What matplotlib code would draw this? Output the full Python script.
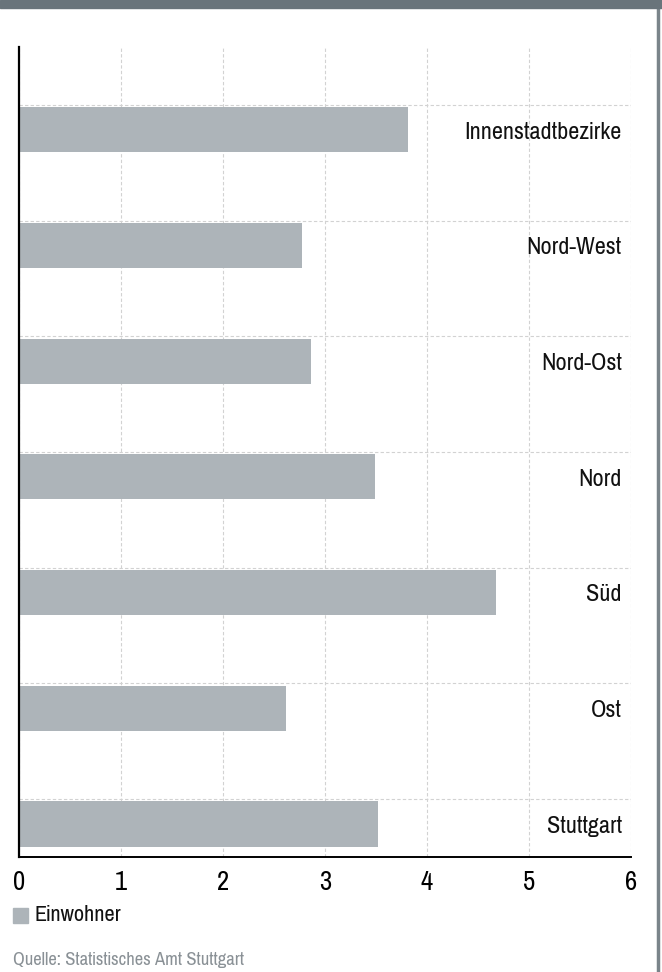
import matplotlib
matplotlib.use("Agg")
import matplotlib.pyplot as plt
from matplotlib import font_manager
from matplotlib.patches import Rectangle
from matplotlib.lines import Line2D

names = {f.name for f in font_manager.fontManager.ttflist}
fam = next((f for f in ["Pragati Narrow", "Roboto Condensed", "Liberation Sans"] if f in names), "DejaVu Sans")
plt.rcParams['font.family'] = [fam, 'DejaVu Sans']

categories = ["Innenstadtbezirke", "Nord-West", "Nord-Ost", "Nord", "Süd", "Ost", "Stuttgart"]
einwohner = [3.81, 2.77, 2.86, 3.49, 4.68, 2.62, 3.52]
xticks = [0, 1, 2, 3, 4, 5, 6]

W, H = 662, 972
fig = plt.figure(figsize=(W/100, H/100), dpi=100)
ax = fig.add_axes([19/W, 1-857/H, 612/W, 810/H])

bar_color = "#adb4b9"
pos = list(range(len(categories)))
ax.barh([p + 0.215 for p in pos], einwohner, height=0.39, color=bar_color, zorder=2)

ax.set_xlim(0, 6)
ax.set_ylim(len(categories) - 0.5, -0.5)
ax.set_xticks(xticks)
ax.set_xticklabels([str(t) for t in xticks], fontsize=21)
ax.set_yticks(pos)
ax.set_yticklabels([])
ax.tick_params(axis='y', length=0)
ax.tick_params(axis='x', length=0, pad=9)
ax.grid(True, axis='both', color="#d2d2d2", linestyle=(0, (3, 2)), linewidth=0.8, zorder=0)
for s in ["top", "right"]:
    ax.spines[s].set_visible(False)
ax.spines["left"].set_linewidth(1.6)
ax.spines["bottom"].set_linewidth(1.4)

for p, c in zip(pos, categories):
    ax.text(5.91, p + 0.235, c, ha='right', va='center', fontsize=19, color="#111111", zorder=3)

# top band and right border
fig.add_artist(Rectangle((0, 1-8/H), 1, 8/H, transform=fig.transFigure, color="#69747b", zorder=5))
fig.add_artist(Line2D([657.5/W, 657.5/W], [0, 1-8/H], transform=fig.transFigure, color="#7a848a", linewidth=2.5))

# legend
fig.add_artist(Rectangle((13/W, 1-923/H), 15/W, 15/H, transform=fig.transFigure, color=bar_color))
fig.text(35/W, 1-915/H, "Einwohner", fontsize=17.5, va='center', ha='left', color="#111111")
fig.text(13/W, 1-960/H, "Quelle: Statistisches Amt Stuttgart", fontsize=14.5, va='center', ha='left', color="#8a9196")

fig.savefig("out.png", dpi=100)
